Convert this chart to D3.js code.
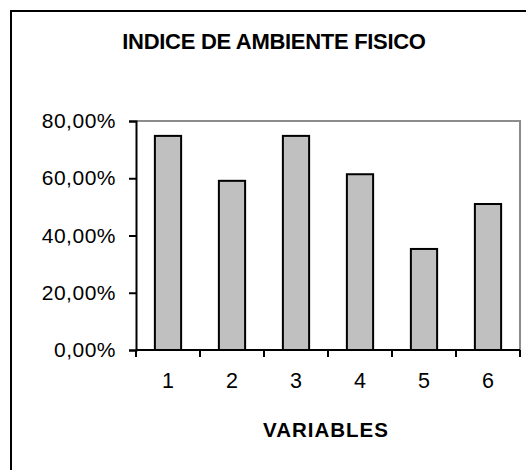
<!DOCTYPE html>
<html>
<head>
<meta charset="utf-8">
<script src="https://cdn.jsdelivr.net/npm/d3@7"></script>
<style>
  html, body { margin: 0; padding: 0; background: #fff; }
  svg { display: block; font-family: "Liberation Sans", Arial, sans-serif; }
</style>
</head>
<body>
<div id="chart"></div>
<script>
// datos del grafico
const categories = ["1", "2", "3", "4", "5", "6"];
const values = [0.748, 0.591, 0.748, 0.614, 0.353, 0.51];
const yTicks = [0, 0.2, 0.4, 0.6, 0.8];
const title = "INDICE DE AMBIENTE FISICO";
const xTitle = "VARIABLES";

const W = 526, H = 470;
const plot = {left: 136, right: 520, top: 121, bottom: 350};

const svg = d3.select("#chart")
  .append("svg")
  .attr("width", W)
  .attr("height", H);

// marco exterior (sale por la derecha y abajo)
svg.append("rect")
  .attr("x", 11).attr("y", 11)
  .attr("width", 540).attr("height", 480)
  .attr("fill", "#fff")
  .attr("stroke", "#000")
  .attr("stroke-width", 2);

const x = d3.scaleBand()
  .domain(categories)
  .range([plot.left, plot.right])
  .paddingInner(0.59)
  .paddingOuter(0.295);

const y = d3.scaleLinear()
  .domain([0, 0.8])
  .range([plot.bottom, plot.top]);

// borde gris del area de trazado
svg.append("path")
  .attr("d", `M${plot.left},${plot.top}H${plot.right}V${plot.bottom}`)
  .attr("fill", "none")
  .attr("stroke", "#8c8c8c")
  .attr("stroke-width", 2);

// barras
svg.selectAll("rect.bar")
  .data(values)
  .join("rect")
    .attr("class", "bar")
    .attr("x", (d, i) => x(categories[i]))
    .attr("y", d => y(d))
    .attr("width", x.bandwidth())
    .attr("height", d => y(0) - y(d))
    .attr("fill", "#c0c0c0")
    .attr("stroke", "#000")
    .attr("stroke-width", 2);

const fmt = d => d3.format(".2f")(d * 100).replace(".", ",") + "%";

// eje y
const yAxis = svg.append("g")
  .attr("transform", `translate(${plot.left},0)`)
  .call(d3.axisLeft(y).tickValues(yTicks).tickFormat(fmt).tickSize(7).tickPadding(13));
yAxis.select(".domain").attr("stroke", "#000").attr("stroke-width", 2);
yAxis.selectAll(".tick line").attr("stroke", "#000").attr("stroke-width", 2);
yAxis.selectAll("text")
  .attr("font-size", "21px")
  .attr("letter-spacing", "0.5px")
  .attr("fill", "#000")
  .attr("font-family", "Liberation Sans, Arial, sans-serif");

// eje x: marcas entre categorias
const xAxis = svg.append("g")
  .attr("transform", `translate(0,${plot.bottom})`);
xAxis.append("line")
  .attr("x1", plot.left).attr("x2", plot.right)
  .attr("stroke", "#000").attr("stroke-width", 2);
const edges = categories.map(c => x(c) - x.step() * x.paddingInner() / 2 + x.step());
xAxis.selectAll("line.tk")
  .data([x(categories[0]) - x.step() * x.paddingOuter()].concat(edges))
  .join("line")
    .attr("class", "tk")
    .attr("x1", d => d).attr("x2", d => d)
    .attr("y1", 0).attr("y2", 7)
    .attr("stroke", "#000").attr("stroke-width", 2);
xAxis.selectAll("text")
  .data(categories)
  .join("text")
    .attr("x", d => x(d) + x.bandwidth() / 2)
    .attr("y", 38)
    .attr("text-anchor", "middle")
    .attr("font-size", "21.5px")
    .text(d => d);

// titulos
svg.append("text")
  .attr("x", 274).attr("y", 49)
  .attr("text-anchor", "middle")
  .attr("font-size", "22px")
  .attr("font-weight", "bold")
  .attr("letter-spacing", "-0.3px")
  .text(title);

svg.append("text")
  .attr("x", 326).attr("y", 437)
  .attr("text-anchor", "middle")
  .attr("font-size", "20.5px")
  .attr("font-weight", "bold")
  .attr("letter-spacing", "1px")
  .text(xTitle);
</script>
</body>
</html>
